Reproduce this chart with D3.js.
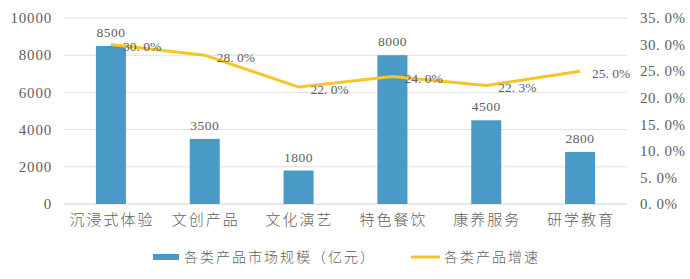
<!DOCTYPE html>
<html>
<head>
<meta charset="utf-8">
<script src="https://cdn.jsdelivr.net/npm/d3@7.9.0/dist/d3.min.js"></script>
<style>
  body { margin: 0; background: #fff; }
  svg text { fill: #606060; }
</style>
</head>
<body>
<svg id="chart" width="690" height="279"></svg>
<script>
const categories = ['沉浸式体验', '文创产品', '文化演艺', '特色餐饮', '康养服务', '研学教育'];
const marketSize = [8500, 3500, 1800, 8000, 4500, 2800];
const growthRate = [30.0, 28.0, 22.0, 24.0, 22.3, 25.0];
const leftTicks = [0, 2000, 4000, 6000, 8000, 10000];
const rightTicks = [0, 5, 10, 15, 20, 25, 30, 35];
const seriesNames = ['各类产品市场规模（亿元）', '各类产品增速'];

const barColor = '#4a9ac7';
const lineColor = '#f6c626';
const numFont = '"Liberation Serif", "DejaVu Serif", serif';
const cjkFont = '"Noto Sans CJK SC", sans-serif';

const svg = d3.select('#chart');
const plotLeft = 64, plotRight = 627, plotTop = 18, plotBottom = 204;

const x = d3.scaleBand().domain(categories).range([plotLeft, plotRight]).paddingInner(0.68).paddingOuter(0.34);
const y = d3.scaleLinear().domain([0, 10000]).range([plotBottom, plotTop]);
const y2 = d3.scaleLinear().domain([0, 35]).range([plotBottom, plotTop]);
const pct = d => d.toFixed(1).replace('.', '. ') + '%';

// gridlines
svg.append('g')
  .selectAll('line')
  .data(leftTicks)
  .join('line')
  .attr('x1', plotLeft).attr('x2', plotRight)
  .attr('y1', d => y(d)).attr('y2', d => y(d))
  .attr('stroke', d => d === 0 ? '#d0d0d0' : '#e0e0e0')
  .attr('stroke-width', 1);

// left axis labels
svg.append('g')
  .selectAll('text')
  .data(leftTicks)
  .join('text')
  .attr('x', 52).attr('y', d => y(d))
  .attr('dy', '0.35em')
  .attr('text-anchor', 'end')
  .style('font', `15px ${numFont}`)
  .style('letter-spacing', '0.8px')
  .text(d => d);

// right axis labels
svg.append('g')
  .selectAll('text')
  .data(rightTicks)
  .join('text')
  .attr('x', 640).attr('y', d => y2(d))
  .attr('dy', '0.35em')
  .style('font', `15px ${numFont}`)
  .style('letter-spacing', '0.5px')
  .text(pct);

// bars
svg.append('g')
  .selectAll('rect')
  .data(marketSize)
  .join('rect')
  .attr('x', (d, i) => x(categories[i]))
  .attr('y', d => y(d))
  .attr('width', x.bandwidth())
  .attr('height', d => plotBottom - y(d))
  .attr('fill', barColor);

// bar labels
svg.append('g')
  .selectAll('text')
  .data(marketSize)
  .join('text')
  .attr('x', (d, i) => x(categories[i]) + x.bandwidth() / 2)
  .attr('y', d => y(d) - 9)
  .attr('text-anchor', 'middle')
  .style('font', `13.5px ${numFont}`)
  .style('letter-spacing', '0.5px')
  .text(d => d);

// line
const cx = i => x(categories[i]) + x.bandwidth() / 2;
const line = d3.line().x((d, i) => cx(i)).y(d => y2(d));
svg.append('path')
  .datum(growthRate)
  .attr('d', line)
  .attr('fill', 'none')
  .attr('stroke', lineColor)
  .attr('stroke-width', 3);

// line labels
svg.append('g')
  .selectAll('text')
  .data(growthRate)
  .join('text')
  .attr('x', (d, i) => cx(i) + 12)
  .attr('y', d => y2(d) + 2)
  .attr('dy', '0.35em')
  .style('font', `13.5px ${numFont}`)
  .text(pct);

// category labels
svg.append('g')
  .selectAll('text')
  .data(categories)
  .join('text')
  .attr('x', d => x(d) + x.bandwidth() / 2 + 1)
  .attr('y', 225)
  .attr('text-anchor', 'middle')
  .style('font', `300 15px ${cjkFont}`)
  .style('letter-spacing', '2px')
  .text(d => d);

// legend
const lg = svg.append('g');
lg.append('rect').attr('x', 153).attr('y', 254).attr('width', 26).attr('height', 6).attr('fill', barColor);
lg.append('text').attr('x', 184).attr('y', 257).attr('dy', '0.35em')
  .style('font', `300 14px ${cjkFont}`).style('letter-spacing', '2px').text(seriesNames[0]);
lg.append('line').attr('x1', 411).attr('x2', 440).attr('y1', 257).attr('y2', 257)
  .attr('stroke', lineColor).attr('stroke-width', 3);
lg.append('text').attr('x', 444).attr('y', 257).attr('dy', '0.35em')
  .style('font', `300 14px ${cjkFont}`).style('letter-spacing', '2px').text(seriesNames[1]);
</script>
</body>
</html>
